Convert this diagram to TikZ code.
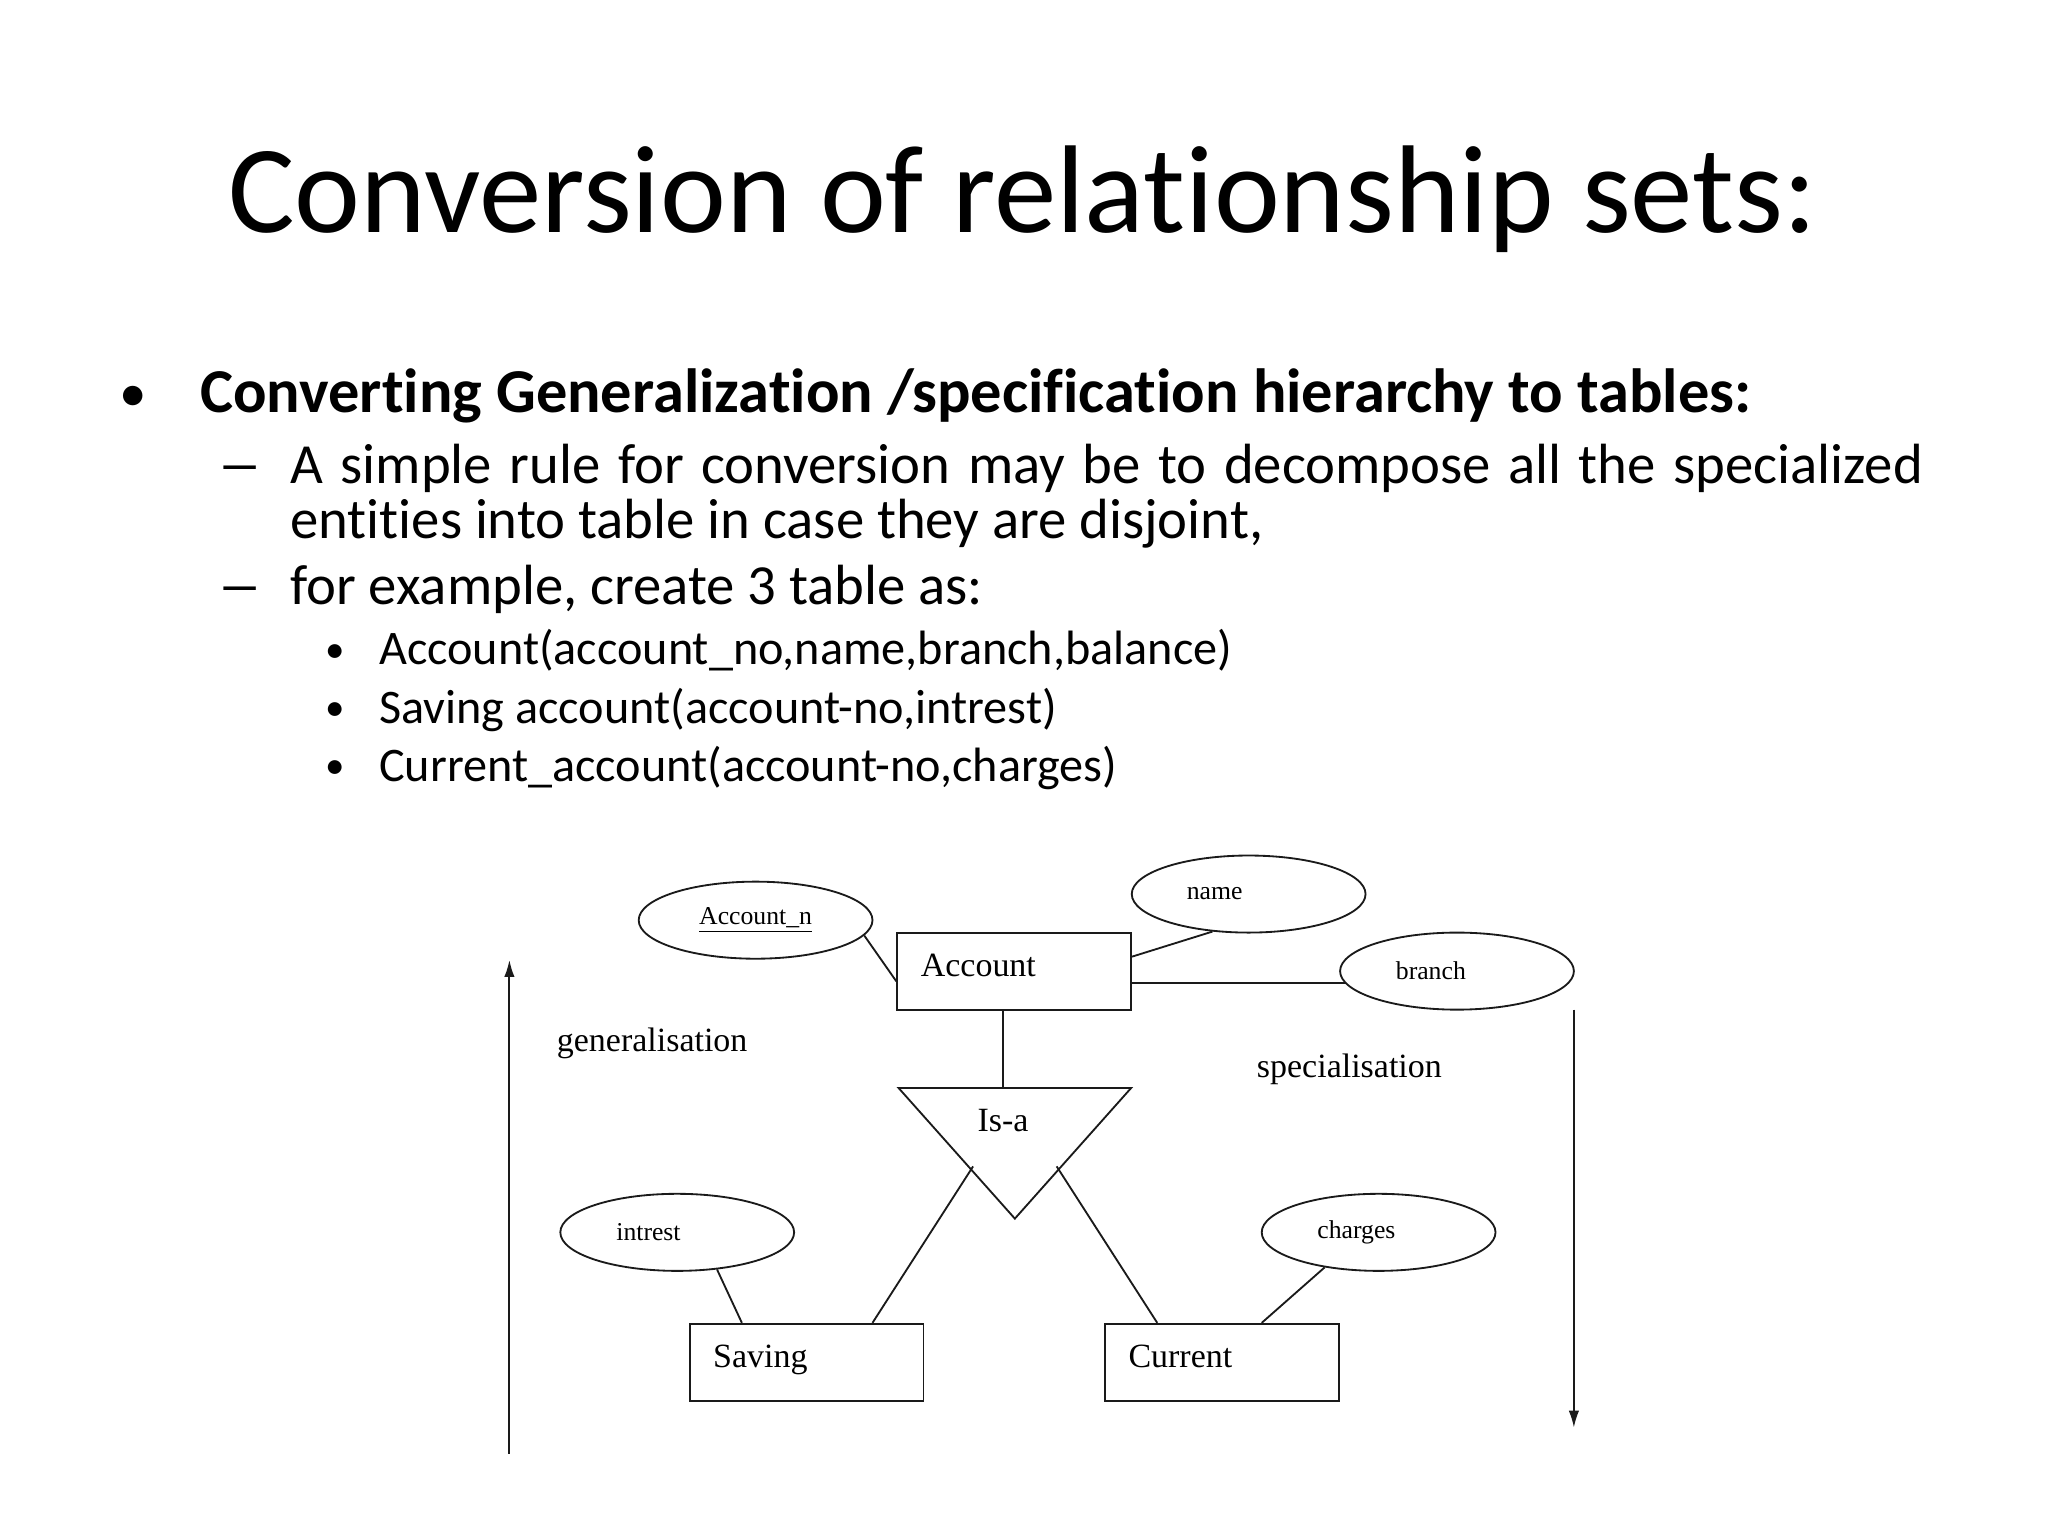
\documentclass[tikz,border=0pt]{standalone}
\usepackage{fontspec}
\setmainfont{Carlito}[Ligatures=NoCommon]
\newfontfamily\erfont{Liberation Serif}
\usetikzlibrary{arrows.meta,positioning,calc,shapes.geometric}
\definecolor{ink}{HTML}{000000}
\definecolor{erline}{HTML}{1A1A1A}
\tikzset{
  slidetxt/.style={anchor=base west, inner sep=0pt, text=ink},
  bul/.style={anchor=base, inner sep=0pt, text=ink},
  entbox/.style={rectangle, draw=erline, line width=0.8pt, minimum width=35.8mm, minimum height=11.8mm,
              text width=28.6mm, inner xsep=3.6mm, align=left, text height=3.6mm, text depth=2mm,
              font=\erfont\fontsize{14.8}{16}\selectfont},
  attr/.style={ellipse, draw=erline, line width=0.8pt, minimum width=35.8mm, minimum height=11.8mm,
              inner sep=1pt, font=\erfont\fontsize{11.2}{13}\selectfont},
  erlbl/.style={anchor=west, inner sep=0pt, font=\erfont\fontsize{14.8}{16}\selectfont},
  erlink/.style={draw=erline, line width=0.8pt},
  dirarrow/.style={-{Latex[length=2.6mm,width=1.6mm]}, draw=erline, line width=0.8pt}
}
\newcommand{\lvlone}{\fontsize{27.2}{29}\selectfont}
\newcommand{\lvltwo}{\fontsize{24.7}{24}\selectfont}
\newcommand{\lvlthree}{\fontsize{21}{22}\selectfont}

\begin{document}
\begin{tikzpicture}[x=0.2mm, y=-0.2mm]
 \useasboundingbox[fill=white] (0,0) rectangle (1568,1176);
 % slide text
 \node[anchor=base, inner sep=0pt] (title) at (783,178) {\fontsize{54.4}{60}\selectfont Conversion of relationship sets:};
 \node[bul] (b1) at (102,315) {\fontsize{24}{26}\selectfont •};
 \node[slidetxt] (l1) at (153,316) {\lvlone\bfseries Converting Generalization /specification hierarchy to tables:};
 \node[bul] (d1) at (184,370) {\lvltwo\scalebox{1.6}[1]{–}};
 \node[slidetxt, text width=250mm, align=justify, font=\fontsize{24.7}{23.9}\selectfont] (l2a) at (222,370) {%
   A simple rule for conversion may be to decompose all the specialized\break
   entities into table in case they are disjoint,};
 \node[bul] (d2) at (184,463) {\lvltwo\scalebox{1.6}[1]{–}};
 \node[slidetxt] (l2b) at (222,463) {\lvltwo for example, create 3 table as:};
 \foreach \yy/\nm/\txt in {509/t1/{Account(account\_no,name,branch,balance)},
                          554/t2/{Saving account(account-no,intrest)},
                          598/t3/{Current\_account(account-no,charges)}} {
   \node[bul] at (257,\yy-2) {\fontsize{17}{19}\selectfont •};
   \node[slidetxt] (\nm) at (290,\yy) {\lvlthree \txt};
 }
 % ER diagram
 \node[entbox] (acc) at (776.5,743.5) {Account};
 \node[entbox] (sav) at (617.5,1043) {Saving};
 \node[entbox] (cur) at (935.5,1043) {Current};
 \node[attr] (accn) at (578.5,704.5) {\underline{Account\_n}};
 \node[attr] (nme) at (956,684.5) {name\hspace*{10.4mm}};
 \node[attr] (brn) at (1115.5,743.5) {branch\hspace*{8mm}};
 \node[attr] (intr) at (518.5,943.5) {intrest\hspace*{8.8mm}};
 \node[attr] (chg) at (1055.5,943.5) {charges\hspace*{6.8mm}};
 \node[inner sep=0pt, font=\erfont\fontsize{14.8}{16}\selectfont] (isa) at (768,858) {Is-a};
 \coordinate (isaL) at (688,833);
 \coordinate (isaR) at (866,833);
 \coordinate (isaB) at (777,933);
 \coordinate (isaSL) at (745,893);
 \coordinate (isaSR) at (809,893);
 \draw[erlink] (isaL) -- (isaR) -- (isaB) -- cycle;
 \draw[erlink] (acc.south -| isa) -- (isaL -| isa);
 \draw[erlink] (accn.-8) -- (acc.185);
 \draw[erlink] (nme.-134) -- (acc.7);
 \draw[erlink] (brn.186) -- (brn.186 -| acc.east);
 \draw[erlink] (isaSL) -- (sav.north -| 668,0);
 \draw[erlink] (isaSR) -- (cur.north -| 886,0);
 \draw[erlink] (intr.-43) -- (sav.north -| 568,0);
 \draw[erlink] (chg.-147) -- (cur.north -| 966,0);
 \node[erlbl] (gen) at (426,799) {generalisation};
 \node[erlbl] (spec) at (962,819) {specialisation};
 \coordinate (genB) at (390,1113);
 \coordinate (genT) at (390,735);
 \coordinate (specT) at (1205,773);
 \coordinate (specB) at (1205,1093);
 \draw[dirarrow] (genB) -- (genT);
 \draw[dirarrow] (specT) -- (specB);
\end{tikzpicture}
\end{document}
